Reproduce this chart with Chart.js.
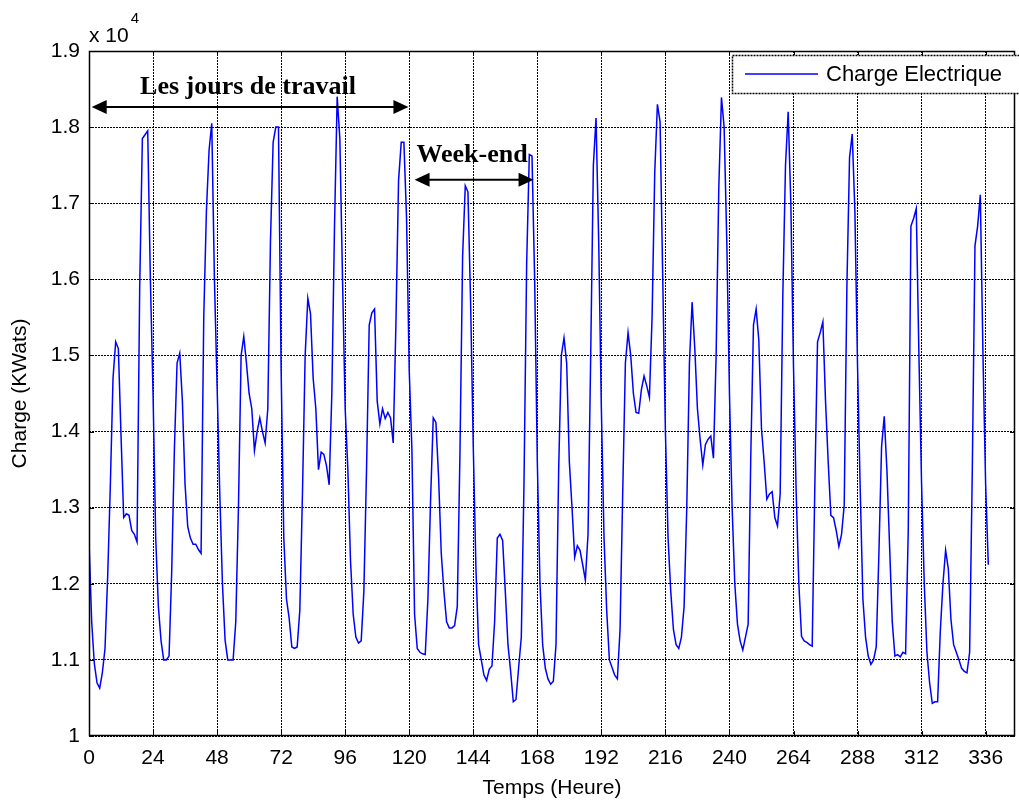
<!DOCTYPE html>
<html>
<head>
<meta charset="utf-8">
<script src="https://cdn.jsdelivr.net/npm/chart.js@4.4.1/dist/chart.umd.min.js"></script>
<style>
  html, body { margin: 0; padding: 0; background: #fff; }
  #wrap { width: 1019px; height: 801px; }
</style>
</head>
<body>
<div id="wrap"><canvas id="chart" width="1019" height="801"></canvas></div>
<script>
// ── Data (kW, one value per hour) ───────────────────────────────────────────

// hours 0..167 : the first week
const week1Load = [
  12570, 11500, 10950, 10700, 10630, 10830, 11150, 12100, 13300, 14700, 15180, 15090,
  13950, 12870, 12920, 12900, 12700, 12650, 12550, 15900, 17850, 17900, 17950, 16000,
  14500, 12600, 11700, 11250, 11000, 11000, 11050, 12170, 13770, 14900, 15030, 14400,
  13300, 12750, 12600, 12520, 12520, 12450, 12400, 15500, 16900, 17700, 18050, 16000,
  14600, 13200, 12000, 11260, 11000, 11000, 11000, 11500, 13000, 15000, 15250, 14900,
  14500, 14300, 13750, 14000, 14180, 14000, 13850, 14300, 16500, 17800, 18000, 18000,
  14800, 12600, 11800, 11550, 11170, 11150, 11170, 11650, 13200, 15000, 15750, 15550,
  14700, 14300, 13500, 13730, 13700, 13550, 13300, 14500, 16700, 18400, 17850, 16000,
  14300, 13500, 12300, 11600, 11300, 11220, 11250, 11900, 13500, 15400, 15560, 15610,
  14400, 14100, 14300, 14170, 14250, 14180, 13850, 15400, 17300, 17800, 17800, 16800,
  14800, 13770, 11600, 11150, 11100, 11080, 11070, 11800, 13100, 14180, 14120, 13400,
  12400, 11900, 11500, 11420, 11420, 11450, 11700, 13700, 16300, 17230, 17150, 15700,
  13800, 12200, 11200, 11000, 10800, 10730, 10880, 10920, 11500, 12600, 12650, 12570,
  11900, 11200, 10850, 10450, 10480, 10900, 11300, 13300, 16200, 17640, 17620, 16000
];

// hours 168..337 : the second week
const week2Load = [
  13600, 12000, 11200, 10890, 10750, 10680, 10720, 11200, 13500, 15000, 15230, 14900,
  13600, 13000, 12350, 12500, 12440, 12250, 12050, 12650, 15000, 17500, 18120, 16500,
  14300, 12600, 11650, 11000, 10900, 10800, 10750, 11400, 13200, 14900, 15300, 15000,
  14500, 14250, 14240, 14550, 14730, 14600, 14450, 15500, 17400, 18300, 18070, 16000,
  14000, 12600, 11900, 11400, 11200, 11150, 11300, 11700, 13000, 14900, 15700, 15100,
  14300, 13900, 13560, 13830, 13900, 13940, 13650, 15000, 17200, 18390, 18000, 16500,
  14500, 13000, 12000, 11470, 11250, 11130, 11300, 11470, 13700, 15400, 15610, 15200,
  14040, 13600, 13110, 13180, 13210, 12870, 12760, 13180, 15800, 17500, 18200, 17000,
  14850, 13200, 12000, 11310, 11250, 11230, 11200, 11180, 13300, 15180, 15300, 15440,
  14400, 13600, 12900, 12870, 12700, 12490, 12650, 13030, 15900, 17600, 17910, 16900,
  14850, 13240, 11800, 11300, 11050, 10940, 11000, 11170, 12400, 13800, 14200, 13500,
  12500, 11500, 11050, 11070, 11040, 11100, 11080, 12700, 16700, 16800, 16930, 15000,
  13300, 12000, 11100, 10700, 10430, 10450, 10450, 11370, 12000, 12440, 12200, 11530,
  11200, 11100, 11000, 10890, 10850, 10830, 11100, 13500, 16440, 16700, 17110, 15000,
  13300, 12250
];

const hourTicks = [0, 24, 48, 72, 96, 120, 144, 168, 192, 216, 240, 264, 288, 312, 336];
const loadTicks = [10000, 11000, 12000, 13000, 14000, 15000, 16000, 17000, 18000, 19000];

const seriesLabel = "Charge Electrique";
const xTitle = "Temps (Heure)";
const yTitle = "Charge (KWats)";

// annotation spans, in hours / kW
const workDays = { label: "Les jours de travail", from: 1, to: 119.7, arrowAt: 18265, textAt: 18440 };
const weekEnd  = { label: "Week-end", from: 122, to: 166.6, arrowAt: 17310, textAt: 17540 };

// ── Helpers ────────────────────────────────────────────────────────────────

const loads = week1Load.concat(week2Load);
const points = loads.map((v, i) => ({ x: i, y: v }));

const SANS = "'Liberation Sans', Arial, sans-serif";
const SERIF = "'Liberation Serif', 'Times New Roman', serif";

function fmtTick(v) {
  return (v / 1e4).toFixed(1).replace(/\.0$/, "");
}

function arrow(ctx, x1, x2, y) {
  const head = 15, half = 7;
  ctx.strokeStyle = "#000";
  ctx.fillStyle = "#000";
  ctx.lineWidth = 2;
  ctx.beginPath();
  ctx.moveTo(x1 + head - 1, y);
  ctx.lineTo(x2 - head + 1, y);
  ctx.stroke();
  ctx.beginPath();
  ctx.moveTo(x1, y); ctx.lineTo(x1 + head, y - half); ctx.lineTo(x1 + head, y + half);
  ctx.closePath(); ctx.fill();
  ctx.beginPath();
  ctx.moveTo(x2, y); ctx.lineTo(x2 - head, y - half); ctx.lineTo(x2 - head, y + half);
  ctx.closePath(); ctx.fill();
}

// frame, inward ticks, exponent, arrows and the boxed legend (MATLAB look)
const matlabDecor = {
  id: "matlabDecor",
  afterDraw(chart) {
    const { ctx, chartArea: a, scales: { x, y } } = chart;
    ctx.save();

    // axes box
    ctx.strokeStyle = "#000";
    ctx.lineWidth = 1.5;
    ctx.setLineDash([]);
    ctx.strokeRect(a.left + 0.5, a.top + 0.5, a.right - a.left - 1, a.bottom - a.top - 1);

    // inward tick marks
    ctx.lineWidth = 1;
    ctx.beginPath();
    hourTicks.forEach(h => {
      const px = Math.round(x.getPixelForValue(h)) + 0.5;
      ctx.moveTo(px, a.bottom); ctx.lineTo(px, a.bottom - 5);
      ctx.moveTo(px, a.top); ctx.lineTo(px, a.top + 5);
    });
    loadTicks.forEach(v => {
      const py = Math.round(y.getPixelForValue(v)) + 0.5;
      ctx.moveTo(a.left, py); ctx.lineTo(a.left + 5, py);
      ctx.moveTo(a.right, py); ctx.lineTo(a.right - 5, py);
    });
    ctx.stroke();

    // x 10^4
    ctx.fillStyle = "#000";
    ctx.textAlign = "left";
    ctx.textBaseline = "alphabetic";
    ctx.font = `21px ${SANS}`;
    ctx.fillText("x 10", a.left, 42);
    const w = ctx.measureText("x 10").width;
    ctx.font = `15px ${SANS}`;
    ctx.fillText("4", a.left + w + 2, 23);

    // annotations
    [workDays, weekEnd].forEach(s => {
      const x1 = x.getPixelForValue(s.from), x2 = x.getPixelForValue(s.to);
      arrow(ctx, x1, x2, y.getPixelForValue(s.arrowAt));
      ctx.font = `bold 26px ${SERIF}`;
      ctx.textAlign = "center";
      ctx.fillStyle = "#000";
      ctx.fillText(s.label, (x1 + x2) / 2 - 2, y.getPixelForValue(s.textAt));
    });

    // legend box
    const lx = 732, ly = 55, lh = 38;
    ctx.fillStyle = "#fff";
    ctx.fillRect(lx, ly, chart.width - lx, lh);
    ctx.strokeStyle = "#000";
    ctx.setLineDash([2, 1]);
    ctx.lineWidth = 1.5;
    ctx.strokeRect(lx + 0.5, ly + 0.5, chart.width - lx + 5, lh);
    ctx.setLineDash([]);
    const ds = chart.data.datasets[0];
    ctx.strokeStyle = ds.borderColor;
    ctx.lineWidth = 1.5;
    ctx.beginPath();
    ctx.moveTo(745, ly + lh / 2); ctx.lineTo(818, ly + lh / 2);
    ctx.stroke();
    ctx.fillStyle = "#000";
    ctx.font = `22px ${SANS}`;
    ctx.textAlign = "left";
    ctx.textBaseline = "middle";
    ctx.fillText(ds.label, 826, ly + lh / 2 + 1);

    ctx.restore();
  }
};

// ── Chart ──────────────────────────────────────────────────────────────────

new Chart(document.getElementById("chart").getContext("2d"), {
  type: "line",
  data: {
    datasets: [{
      label: seriesLabel,
      data: points,
      borderColor: "#0000ff",
      borderWidth: 1.5,
      pointRadius: 0,
      tension: 0,
      fill: false,
    }],
  },
  options: {
    responsive: false,
    animation: false,
    devicePixelRatio: 1,
    layout: { padding: { top: 51, right: 4, left: 0, bottom: 0 } },
    plugins: { legend: { display: false }, tooltip: { enabled: false } },
    scales: {
      x: {
        type: "linear",
        min: 0,
        max: 347,
        afterBuildTicks: s => { s.ticks = hourTicks.map(v => ({ value: v })); },
        afterFit: s => { s.height = 65; },
        grid: { color: "#000", lineWidth: 1, drawTicks: false },
        border: { display: false, dash: [2, 1] },
        ticks: { color: "#000", font: { family: SANS, size: 21 }, padding: 10, maxRotation: 0, autoSkip: false,
                 callback: v => String(v) },
        title: { display: true, text: xTitle, color: "#000", font: { family: SANS, size: 21 }, padding: { top: 0, bottom: 0 } },
      },
      y: {
        min: 10000,
        max: 19000,
        afterBuildTicks: s => { s.ticks = loadTicks.map(v => ({ value: v })); },
        afterFit: s => { s.width = 89; },
        grid: { color: "#000", lineWidth: 1, drawTicks: false },
        border: { display: false, dash: [2, 1] },
        ticks: { color: "#000", font: { family: SANS, size: 21 }, padding: 9, callback: v => fmtTick(v) },
        title: { display: true, text: yTitle, color: "#000", font: { family: SANS, size: 21 }, padding: { top: 8, bottom: 0 } },
      },
    },
  },
  plugins: [matlabDecor],
});
</script>
</body>
</html>
